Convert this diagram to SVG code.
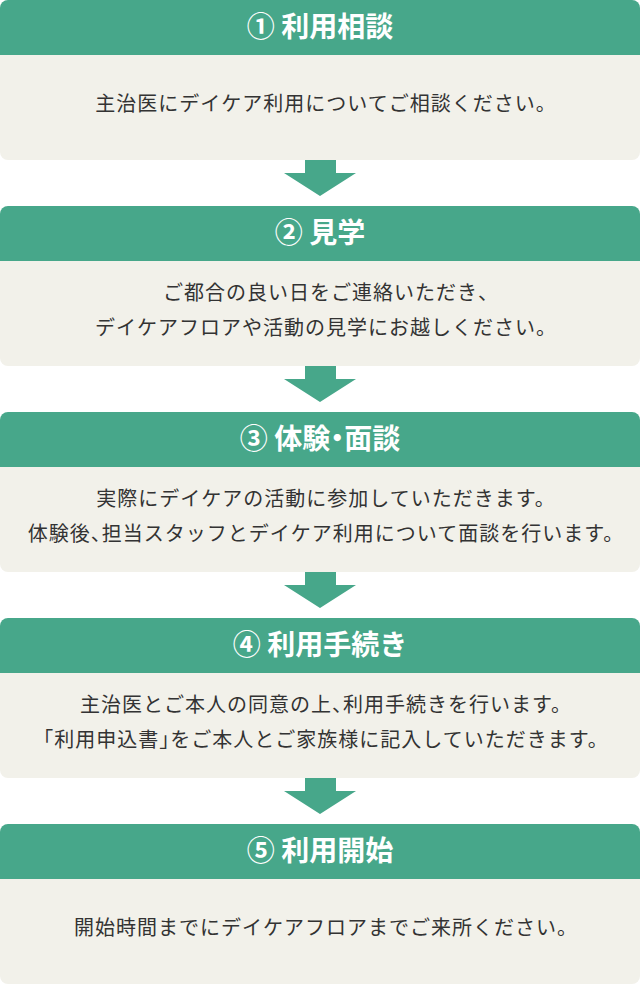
<svg xmlns="http://www.w3.org/2000/svg" width="640" height="984" viewBox="0 0 640 984">
<style>
.hd{fill:#47a78a}
.bd{fill:#f2f1ea}
.ht{font-family:"Noto Sans CJK JP","Noto Sans",sans-serif;font-size:28px;font-weight:700;fill:#fff;text-anchor:middle}
.bt{font-family:"Noto Sans CJK JP","Noto Sans",sans-serif;font-size:20px;fill:#333;text-anchor:middle;letter-spacing:1px}
.h{font-feature-settings:"halt"}
.ar{fill:#47a78a}
</style>
<defs>
<path id="head" d="M0,55 V8 A8,8 0 0 1 8,0 H632 A8,8 0 0 1 640,8 V55 Z"/>
<path id="body" d="M0,55 H640 V152 A8,8 0 0 1 632,160 H8 A8,8 0 0 1 0,152 Z"/>
<polygon id="arrow" points="305,160 336,160 336,173 356,173 320,196 284,173 305,173"/>
</defs>
<g id="step1">
<use href="#head" class="hd"/><use href="#body" class="bd"/>
<text class="ht" x="320" y="37">① 利用相談</text>
<text class="bt" x="326" y="111">主治医にデイケア利用についてご相談ください。</text>
</g>
<g id="step2" transform="translate(0,206)">
<use href="#head" class="hd"/><use href="#body" class="bd"/>
<text class="ht" x="320" y="37">② 見学</text>
<text class="bt" x="326" y="94">ご都合の良い日をご連絡いただき<tspan class="h">、</tspan></text>
<text class="bt" x="326" y="129">デイケアフロアや活動の見学にお越しください。</text>
</g>
<g id="step3" transform="translate(0,412)">
<use href="#head" class="hd"/><use href="#body" class="bd"/>
<text class="ht" x="320" y="37">③ 体験<tspan class="h">・</tspan>面談</text>
<text class="bt" x="326" y="94">実際にデイケアの活動に参加していただきます。</text>
<text class="bt" x="326" y="129">体験後<tspan class="h">、</tspan>担当スタッフとデイケア利用について面談を行います。</text>
</g>
<g id="step4" transform="translate(0,618)">
<use href="#head" class="hd"/><use href="#body" class="bd"/>
<text class="ht" x="320" y="37">④ 利用手続き</text>
<text class="bt" x="326" y="94">主治医とご本人の同意の上<tspan class="h">、</tspan>利用手続きを行います。</text>
<text class="bt" x="326" y="129"><tspan class="h">「</tspan>利用申込書<tspan class="h">」</tspan>をご本人とご家族様に記入していただきます。</text>
</g>
<g id="step5" transform="translate(0,824)">
<use href="#head" class="hd"/><use href="#body" class="bd"/>
<text class="ht" x="320" y="37">⑤ 利用開始</text>
<text class="bt" x="326" y="111">開始時間までにデイケアフロアまでご来所ください。</text>
</g>
<g id="connectors">
<use href="#arrow" class="ar"/>
<use href="#arrow" class="ar" transform="translate(0,206)"/>
<use href="#arrow" class="ar" transform="translate(0,412)"/>
<use href="#arrow" class="ar" transform="translate(0,618)"/>
</g>
</svg>
